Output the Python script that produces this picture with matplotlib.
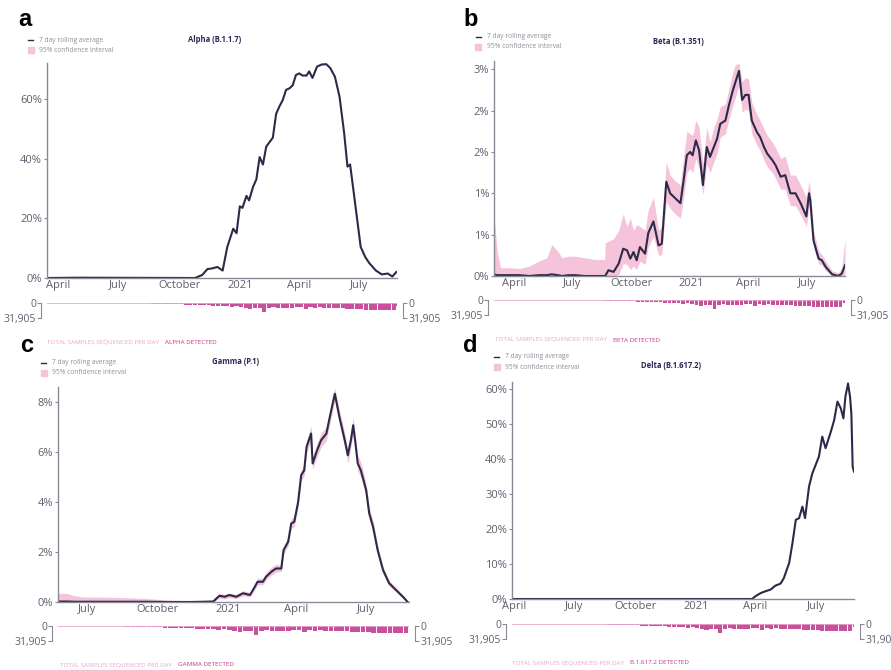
import matplotlib
matplotlib.use('Agg')
import matplotlib.pyplot as plt
import pandas as pd

plt.rcParams['font.family'] = ['Open Sans', 'DejaVu Sans']

W, H = 891, 670

# ---- data ----

# Alpha (B.1.1.7), % of sequenced samples, 7 day rolling average
alpha_dates = ['2020-03-15', '2020-05-01', '2020-10-25', '2020-11-05', '2020-11-13', '2020-11-20',
               '2020-11-28', '2020-12-06', '2020-12-13', '2020-12-22', '2020-12-27', '2021-01-01',
               '2021-01-05', '2021-01-11', '2021-01-15', '2021-01-21', '2021-01-26', '2021-01-31',
               '2021-02-05', '2021-02-10', '2021-02-15', '2021-02-20', '2021-02-25', '2021-03-02',
               '2021-03-07', '2021-03-12', '2021-03-17', '2021-03-22', '2021-03-27', '2021-04-01',
               '2021-04-06', '2021-04-12', '2021-04-16', '2021-04-21', '2021-04-28', '2021-05-05',
               '2021-05-12', '2021-05-18', '2021-05-25', '2021-06-01', '2021-06-08', '2021-06-13',
               '2021-06-17', '2021-06-24', '2021-07-03', '2021-07-10', '2021-07-16', '2021-07-26',
               '2021-08-04', '2021-08-13', '2021-08-20', '2021-08-26']
alpha_avg = [0, 0.1, 0, 1.0, 3.0, 3.2, 3.7, 2.5, 10.4, 16.5, 15.0, 24, 23.5, 27.5, 26, 30.5, 33,
             40.5, 38, 44, 45.5, 47, 55, 57.5, 59.6, 63, 63.5, 64.5, 68, 68.5, 67.8, 67.8, 69.2,
             67, 70.8, 71.5, 71.6, 70.3, 67.4, 60.7, 48.5, 37.3, 38, 26, 10.4, 7, 5, 2.5, 1.2,
             1.5, 0.5, 2.0]

# Beta (B.1.351)
beta_dates = ['2020-03-01', '2020-03-06', '2020-03-11', '2020-03-25', '2020-04-10', '2020-04-25',
              '2020-05-10', '2020-05-22', '2020-05-30', '2020-06-08', '2020-06-15', '2020-06-25',
              '2020-07-05', '2020-07-20', '2020-08-05', '2020-08-20', '2020-08-21', '2020-08-26',
              '2020-09-03', '2020-09-11', '2020-09-18', '2020-09-24', '2020-09-29', '2020-10-04',
              '2020-10-09', '2020-10-14', '2020-10-22', '2020-10-27', '2020-11-04', '2020-11-12',
              '2020-11-17', '2020-11-24', '2020-11-30', '2020-12-08', '2020-12-16', '2020-12-21',
              '2020-12-26', '2020-12-31', '2021-01-04', '2021-01-09', '2021-01-14', '2021-01-20',
              '2021-01-26', '2021-01-31', '2021-02-06', '2021-02-11', '2021-02-16', '2021-02-24',
              '2021-03-01', '2021-03-07', '2021-03-11', '2021-03-17', '2021-03-22', '2021-03-27',
              '2021-04-01', '2021-04-06', '2021-04-14', '2021-04-19', '2021-04-25', '2021-04-30',
              '2021-05-08', '2021-05-13', '2021-05-21', '2021-05-28', '2021-06-05', '2021-06-13',
              '2021-06-21', '2021-06-30', '2021-07-04', '2021-07-06', '2021-07-11', '2021-07-19',
              '2021-07-24', '2021-07-30', '2021-08-09', '2021-08-19', '2021-08-24', '2021-08-29']
beta_avg = [0.02, 0.01, 0.01, 0.01, 0.01, 0.0, 0.01, 0.01, 0.02, 0.01, 0.0, 0.01, 0.01, 0.0, 0.0,
            0.0, 0.0, 0.07, 0.05, 0.15, 0.33, 0.31, 0.21, 0.29, 0.19, 0.35, 0.27, 0.52, 0.66, 0.37,
            0.39, 1.14, 1.0, 0.94, 0.88, 1.16, 1.46, 1.50, 1.46, 1.64, 1.52, 1.10, 1.56, 1.44, 1.56,
            1.66, 1.84, 1.88, 2.05, 2.23, 2.33, 2.48, 2.13, 2.19, 2.19, 1.88, 1.74, 1.68, 1.56, 1.48,
            1.40, 1.34, 1.20, 1.22, 1.0, 1.0, 0.88, 0.72, 1.0, 0.92, 0.43, 0.21, 0.19, 0.11, 0.02,
            0.0, 0.03, 0.13]
beta_lo = [0, 0, 0, 0, 0, 0, 0, 0, 0, 0, 0, 0, 0, 0, 0, 0, 0, 0, 0, 0.02, 0.15, 0.14, 0.08, 0.12,
           0.08, 0.18, 0.14, 0.35, 0.48, 0.25, 0.26, 0.90, 0.82, 0.75, 0.70, 0.95, 1.25, 1.30, 1.25,
           1.42, 1.30, 0.98, 1.35, 1.25, 1.38, 1.48, 1.68, 1.72, 1.88, 2.05, 2.15, 2.30, 1.98, 2.02,
           2.00, 1.72, 1.58, 1.52, 1.40, 1.32, 1.25, 1.18, 1.05, 1.05, 0.85, 0.85, 0.74, 0.60, 0.85,
           0.78, 0.34, 0.15, 0.13, 0.06, 0.0, 0.0, 0.0, 0.02]
beta_hi = [0.72, 0.30, 0.10, 0.10, 0.09, 0.12, 0.18, 0.22, 0.38, 0.30, 0.22, 0.24, 0.24, 0.22, 0.20,
           0.20, 0.40, 0.42, 0.45, 0.55, 0.75, 0.60, 0.70, 0.55, 0.62, 0.60, 0.55, 0.80, 0.95, 0.55,
           0.60, 1.38, 1.22, 1.15, 1.10, 1.45, 1.75, 1.72, 1.70, 1.88, 1.80, 1.35, 1.80, 1.62, 1.80,
           1.90, 2.05, 2.08, 2.25, 2.45, 2.55, 2.58, 2.35, 2.40, 2.38, 2.10, 1.95, 1.88, 1.78, 1.70,
           1.62, 1.55, 1.42, 1.45, 1.22, 1.22, 1.10, 0.95, 1.15, 1.05, 0.55, 0.30, 0.26, 0.18, 0.06,
           0.04, 0.10, 0.45]

# Gamma (P.1)
gamma_dates = ['2020-05-24', '2020-06-05', '2020-06-15', '2020-06-25', '2020-07-15', '2020-08-15',
               '2020-09-15', '2020-10-15', '2020-11-15', '2020-12-13', '2020-12-21', '2020-12-28',
               '2021-01-03', '2021-01-12', '2021-01-21', '2021-01-30', '2021-02-03', '2021-02-09',
               '2021-02-16', '2021-02-20', '2021-02-27', '2021-03-05', '2021-03-12', '2021-03-15',
               '2021-03-21', '2021-03-25', '2021-03-29', '2021-04-03', '2021-04-07', '2021-04-11',
               '2021-04-14', '2021-04-17', '2021-04-20', '2021-04-22', '2021-04-27', '2021-05-03',
               '2021-05-10', '2021-05-14', '2021-05-21', '2021-05-27', '2021-06-03', '2021-06-07',
               '2021-06-11', '2021-06-14', '2021-06-17', '2021-06-20', '2021-06-24', '2021-07-01',
               '2021-07-05', '2021-07-10', '2021-07-16', '2021-07-23', '2021-07-31', '2021-08-09',
               '2021-08-18', '2021-08-24']
gamma_avg = [0.02, 0.02, 0.01, 0.01, 0.01, 0.01, 0.01, 0.0, 0.0, 0.02, 0.25, 0.21, 0.28, 0.21,
             0.35, 0.28, 0.48, 0.81, 0.81, 1.01, 1.21, 1.34, 1.34, 2.08, 2.41, 3.14, 3.21, 4.0,
             5.07, 5.27, 6.2, 6.47, 6.74, 5.54, 6.0, 6.47, 6.74, 7.34, 8.33, 7.4, 6.47, 5.87, 6.47,
             7.07, 6.34, 5.54, 5.27, 4.47, 3.54, 3.01, 2.08, 1.28, 0.75, 0.48, 0.21, 0.01]
gamma_lo = [0, 0, 0, 0, 0, 0, 0, 0, 0, 0, 0.15, 0.12, 0.18, 0.13, 0.25, 0.20, 0.38, 0.68, 0.70,
            0.88, 1.08, 1.20, 1.22, 1.92, 2.25, 2.95, 3.02, 3.80, 4.85, 5.05, 5.95, 6.20, 6.45,
            5.30, 5.75, 6.20, 6.45, 7.05, 8.05, 7.10, 6.20, 5.55, 6.20, 6.75, 6.05, 5.25, 5.00,
            4.20, 3.30, 2.80, 1.90, 1.15, 0.65, 0.40, 0.15, 0.0]
gamma_hi = [0.35, 0.34, 0.25, 0.20, 0.20, 0.18, 0.14, 0.08, 0.05, 0.06, 0.35, 0.30, 0.36, 0.30,
            0.45, 0.38, 0.58, 0.95, 0.95, 1.15, 1.40, 1.50, 1.48, 2.25, 2.60, 3.35, 3.40, 4.20,
            5.30, 5.50, 6.45, 6.75, 7.05, 5.80, 6.30, 6.75, 7.00, 7.60, 8.55, 7.70, 6.75, 6.10,
            6.80, 7.40, 6.65, 5.85, 5.60, 4.75, 3.80, 3.25, 2.25, 1.42, 0.86, 0.57, 0.28, 0.05]

# Delta (B.1.617.2)
delta_dates = ['2020-03-29', '2021-03-27', '2021-04-01', '2021-04-09', '2021-04-16', '2021-04-24',
               '2021-05-01', '2021-05-09', '2021-05-14', '2021-05-22', '2021-05-27', '2021-06-01',
               '2021-06-06', '2021-06-11', '2021-06-15', '2021-06-21', '2021-06-26', '2021-07-01',
               '2021-07-06', '2021-07-11', '2021-07-16', '2021-07-24', '2021-07-29', '2021-08-03',
               '2021-08-08', '2021-08-12', '2021-08-15', '2021-08-19', '2021-08-22', '2021-08-24',
               '2021-08-26', '2021-08-28']
delta_avg = [0, 0, 0.8, 1.7, 2.2, 2.7, 3.8, 4.4, 6.0, 10.3, 16.0, 22.6, 23.1, 26.4, 23.1, 32.1,
             35.9, 38.3, 40.7, 46.4, 43.1, 47.8, 51.1, 56.4, 54.5, 51.6, 57.8, 61.6, 57.8, 53.0,
             37.8, 36.4]

# total samples sequenced per day (weekly readings, shared by all panels)
sample_weeks = pd.date_range('2020-03-01', periods=79, freq='7D')
samples = [300, 500, 700, 800, 700, 800, 900, 800, 700, 600, 500, 500, 400, 400, 300, 300, 300,
           300, 300, 400, 500, 500, 600, 700, 900, 1200, 1500, 1800, 2200, 2500, 2600, 3000, 3200,
           3500, 3800, 4200, 4800, 5300, 5800, 6000, 6500, 7000, 8500, 6000, 8000, 10500, 12000,
           11000, 10000, 19000, 10000, 9500, 11000, 10500, 11000, 10000, 9500, 9000, 12000, 9500,
           10000, 9500, 10000, 10500, 11000, 10000, 11500, 12000, 12500, 13000, 13000, 14000,
           14500, 15000, 15000, 14500, 15500, 14000, 6000]
samples_max = 31905

month_ticks = ['2020-04-01', '2020-07-01', '2020-10-01', '2021-01-01', '2021-04-01', '2021-07-01']
month_labels = ['April', 'July', 'October', '2021', 'April', 'July']

LINE = '#2b2a48'
BAND = '#f5c3da'
BAR = '#c9509c'
GREY = '#5f5f70'


def box(l, t, r, b):
    return [l / W, 1 - b / H, (r - l) / W, (b - t) / H]


def fxy(x, y):
    return x / W, 1 - y / H


def panel(letter, name, detected, dates, avg, lo, hi, xlim, ylim, yticks, ylabels,
          ticks, tlabels, main_px, strip_px, title_px, legend_px, footer_px, letter_px):
    dates = pd.to_datetime(dates)
    xlim = pd.to_datetime(xlim)

    ax = fig.add_axes(box(*main_px))
    if lo is not None:
        ax.fill_between(dates, lo, hi, color=BAND, lw=0)
    ax.plot(dates, avg, color=LINE, lw=1.5)
    ax.set_xlim(xlim)
    ax.set_ylim(ylim)
    ax.set_yticks(yticks)
    ax.set_yticklabels(ylabels)
    ax.set_xticks(pd.to_datetime(ticks))
    ax.set_xticklabels(tlabels)
    for s in ['top', 'right']:
        ax.spines[s].set_visible(False)
    for s in ['left', 'bottom']:
        ax.spines[s].set_color('#8a8a96')
        ax.spines[s].set_linewidth(1.0)
    ax.tick_params(axis='y', length=2.5, color='#8a8a96', labelsize=8, labelcolor=GREY, pad=1)
    ax.tick_params(axis='x', length=0, labelsize=8, labelcolor=GREY, pad=1.5)

    # samples strip underneath
    sx = fig.add_axes(box(*strip_px))
    sx.axhline(150, color='#e9a9cb', lw=0.6)
    sx.bar(sample_weeks, samples, width=6.2, color=BAR, lw=0)
    sx.set_xlim(xlim)
    sx.set_ylim(samples_max, 0)
    sx.set_xticks([])
    sx.set_yticks([0, samples_max])
    sx.set_yticklabels(['0', '31,905'])
    sx.patch.set_alpha(0)
    for s in ['top', 'bottom']:
        sx.spines[s].set_visible(False)
    for s in ['left', 'right']:
        sx.spines[s].set_position(('outward', 4))
        sx.spines[s].set_color('#8a8a96')
        sx.spines[s].set_linewidth(0.8)
    sx.tick_params(axis='y', left=True, right=True, labelleft=True, labelright=True,
                   length=3, color='#8a8a96', labelsize=7.5, labelcolor=GREY, pad=1)

    fig.text(*fxy(*letter_px), letter, fontsize=17, fontweight='bold',
             family='Liberation Sans', va='center', ha='left')
    fig.text(*fxy(*title_px), name, fontsize=5.5, fontweight='bold', color='#2a2656',
             ha='center', va='center')
    lx, ly = legend_px
    fig.lines.append(plt.Line2D([lx / W, (lx + 5) / W], [1 - ly / H] * 2, color=LINE, lw=1,
                                transform=fig.transFigure))
    fig.patches.append(plt.Rectangle(((lx - 0.5) / W, 1 - (ly + 13) / H), 6 / W, 6 / H,
                                     color=BAND, transform=fig.transFigure))
    fig.text((lx + 11) / W, 1 - ly / H, '7 day rolling average', fontsize=4.8,
             color='#8f8f99', va='center')
    fig.text((lx + 11) / W, 1 - (ly + 10) / H, '95% confidence interval', fontsize=4.8,
             color='#8f8f99', va='center')
    fx, fy = footer_px
    fig.text(fx / W, 1 - fy / H, 'TOTAL SAMPLES SEQUENCED PER DAY', fontsize=4.5,
             color='#e7a7c9', va='center')
    fig.text((fx + 118) / W, 1 - fy / H, detected, fontsize=4.5, color='#c2358c', va='center')
    return ax


fig = plt.figure(figsize=(W / 100, H / 100), dpi=100)

panel('a', 'Alpha (B.1.1.7)', 'ALPHA DETECTED', alpha_dates, alpha_avg, None, None,
      ['2020-03-15', '2021-08-27'], (0, 72), [0, 20, 40, 60], ['0%', '20%', '40%', '60%'],
      month_ticks, month_labels,
      (47, 63, 397, 278), (47, 303, 397, 318), (215, 40), (28, 40), (47, 342), (18, 20))

panel('b', 'Beta (B.1.351)', 'BETA DETECTED', beta_dates, beta_avg, beta_lo, beta_hi,
      ['2020-03-01', '2021-08-29'], (0, 2.6), [0, 0.5, 1.0, 1.5, 2.0, 2.5],
      ['0%', '1%', '1%', '2%', '2%', '3%'],
      month_ticks, month_labels,
      (494, 61, 845, 276), (494, 300, 845, 315), (678, 42), (476, 37), (495, 340), (463, 20))

panel('c', 'Gamma (P.1)', 'GAMMA DETECTED', gamma_dates, gamma_avg, gamma_lo, gamma_hi,
      ['2020-05-24', '2021-08-26'], (0, 8.6), [0, 2, 4, 6, 8], ['0%', '2%', '4%', '6%', '8%'],
      month_ticks[1:], month_labels[1:],
      (58, 387, 409, 602), (58, 626, 409, 641), (235, 362), (41, 363), (60, 665), (20, 345))

panel('d', 'Delta (B.1.617.2)', 'B.1.617.2 DETECTED', delta_dates, delta_avg, None, None,
      ['2020-03-29', '2021-08-28'], (0, 62), [0, 10, 20, 30, 40, 50, 60],
      ['0%', '10%', '20%', '30%', '40%', '50%', '60%'],
      month_ticks, month_labels,
      (512, 382, 854, 599), (512, 624, 854, 639), (671, 365), (494, 357), (512, 663), (463, 345))

fig.savefig('out.png', dpi=100)
